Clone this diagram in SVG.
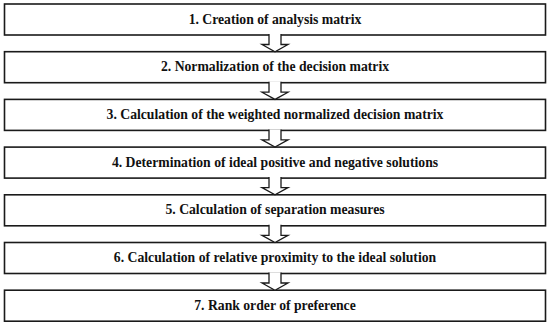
<svg xmlns="http://www.w3.org/2000/svg" width="550" height="327" viewBox="0 0 550 327">
<style>
.box{fill:#fff;stroke:#1a1a1a;stroke-width:1.6}
.arr{fill:#fff;stroke:#1a1a1a;stroke-width:1.3;stroke-linejoin:miter}
.lbl{font-family:"Liberation Serif","Times New Roman",serif;font-weight:bold;font-size:13.7px;fill:#111;text-anchor:middle}
</style>
<rect width="550" height="327" fill="#fff"/>
<g id="n1"><rect class="box" x="4.5" y="4" width="541" height="31"/><text class="lbl" x="275" y="23.5">1. Creation of analysis matrix</text></g>
<g id="n2"><rect class="box" x="4.5" y="51.7" width="541" height="31"/><text class="lbl" x="275" y="71.2">2. Normalization of the decision matrix</text></g>
<g id="n3"><rect class="box" x="4.5" y="99.4" width="541" height="31"/><text class="lbl" x="275" y="118.9">3. Calculation of the weighted normalized decision matrix</text></g>
<g id="n4"><rect class="box" x="4.5" y="147.1" width="541" height="31"/><text class="lbl" x="275" y="166.6">4. Determination of ideal positive and negative solutions</text></g>
<g id="n5"><rect class="box" x="4.5" y="194.8" width="541" height="31"/><text class="lbl" x="275" y="214.3">5. Calculation of separation measures</text></g>
<g id="n6"><rect class="box" x="4.5" y="242.5" width="541" height="31"/><text class="lbl" x="275" y="262">6. Calculation of relative proximity to the ideal solution</text></g>
<g id="n7"><rect class="box" x="4.5" y="290.2" width="541" height="31"/><text class="lbl" x="275" y="309.7">7. Rank order of preference</text></g>
<g id="connectors">
<path class="arr" d="M269,34 V44.5 H262 L275,51.7 L288,44.5 H281 V34"/>
<path class="arr" d="M269,81.7 V92.2 H262 L275,99.4 L288,92.2 H281 V81.7"/>
<path class="arr" d="M269,129.4 V139.9 H262 L275,147.1 L288,139.9 H281 V129.4"/>
<path class="arr" d="M269,177.1 V187.6 H262 L275,194.8 L288,187.6 H281 V177.1"/>
<path class="arr" d="M269,224.8 V235.3 H262 L275,242.5 L288,235.3 H281 V224.8"/>
<path class="arr" d="M269,272.5 V283 H262 L275,290.2 L288,283 H281 V272.5"/>
</g>
</svg>
